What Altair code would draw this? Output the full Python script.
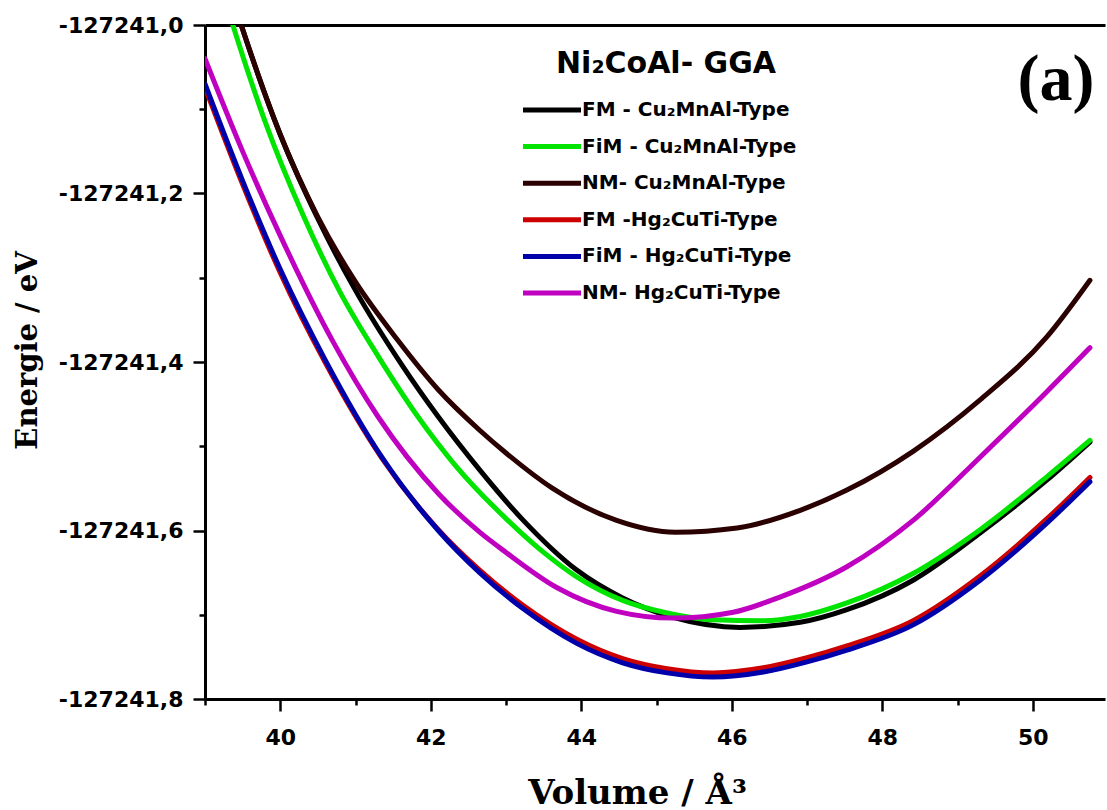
import altair as alt
import pandas as pd

# ---------------- data ----------------
series_names = [
    "FM - Cu₂MnAl-Type",
    "FiM - Cu₂MnAl-Type",
    "NM- Cu₂MnAl-Type",
    "FM -Hg₂CuTi-Type",
    "FiM - Hg₂CuTi-Type",
    "NM- Hg₂CuTi-Type",
]
series_colors = ["#000000", "#00e400", "#2a0000", "#cc0000", "#0000aa", "#c000c0"]

vol_fm_cu = [39.0, 39.5, 40.0, 40.5, 41.0, 41.62, 42.1, 42.65, 43.23, 43.94, 44.55, 45.22, 46.11, 46.91, 47.53, 48.41, 49.30, 50.19, 50.76]
ene_fm_cu = [-127240.860, -127241.005, -127241.130, -127241.230, -127241.315, -127241.404, -127241.465, -127241.528, -127241.588, -127241.647, -127241.680, -127241.703, -127241.715, -127241.709, -127241.694, -127241.659, -127241.603, -127241.540, -127241.495]

vol_fim_cu = [39.0, 39.37, 39.8, 40.3, 40.8, 41.3, 41.83, 42.32, 42.99, 43.5, 43.94, 44.55, 45.14, 45.75, 46.42, 46.91, 47.53, 48.41, 49.30, 50.19, 50.76]
ene_fim_cu = [-127240.890, -127241.000, -127241.115, -127241.225, -127241.318, -127241.393, -127241.465, -127241.522, -127241.585, -127241.626, -127241.655, -127241.683, -127241.698, -127241.706, -127241.707, -127241.702, -127241.686, -127241.651, -127241.599, -127241.536, -127241.493]

vol_nm_cu = [39.0, 39.5, 40.0, 40.5, 41.0, 41.56, 42.1, 42.65, 43.0, 43.62, 44.47, 45.25, 46.07, 46.91, 47.53, 48.41, 49.30, 50.19, 50.76]
ene_nm_cu = [-127240.860, -127241.005, -127241.130, -127241.228, -127241.305, -127241.374, -127241.433, -127241.481, -127241.508, -127241.550, -127241.588, -127241.602, -127241.597, -127241.576, -127241.552, -127241.506, -127241.445, -127241.370, -127241.303]

vol_fm_hg = [39.0, 39.5, 40.0, 40.6, 41.35, 42.1, 42.65, 43.23, 43.94, 44.55, 45.14, 45.75, 46.42, 47.0, 47.53, 48.41, 49.30, 50.19, 50.76]
ene_fm_hg = [-127241.074, -127241.189, -127241.294, -127241.401, -127241.514, -127241.599, -127241.647, -127241.689, -127241.729, -127241.752, -127241.764, -127241.769, -127241.763, -127241.751, -127241.737, -127241.707, -127241.654, -127241.586, -127241.537]

vol_fim_hg = [39.0, 39.5, 40.0, 40.6, 41.35, 42.1, 42.65, 43.23, 43.94, 44.55, 45.14, 45.75, 46.42, 47.0, 47.53, 48.41, 49.30, 50.19, 50.76]
ene_fim_hg = [-127241.070, -127241.185, -127241.290, -127241.398, -127241.513, -127241.600, -127241.650, -127241.693, -127241.734, -127241.757, -127241.769, -127241.774, -127241.768, -127241.756, -127241.742, -127241.712, -127241.659, -127241.591, -127241.542]

vol_nm_hg = [39.0, 39.5, 40.0, 40.69, 41.3, 42.1, 42.65, 43.0, 43.68, 44.47, 45.22, 46.02, 46.64, 47.53, 48.41, 49.30, 50.19, 50.76]
ene_nm_hg = [-127241.040, -127241.150, -127241.250, -127241.374, -127241.465, -127241.556, -127241.602, -127241.626, -127241.668, -127241.696, -127241.704, -127241.697, -127241.679, -127241.643, -127241.588, -127241.513, -127241.435, -127241.383]

x_ticks = [39, 40, 41, 42, 43, 44, 45, 46, 47, 48, 49, 50]
y_ticks = [-127241.8, -127241.7, -127241.6, -127241.5, -127241.4, -127241.3, -127241.2, -127241.1, -127241.0]
x_domain = [39.0, 50.96]
y_domain = [-127241.8, -127241.0]

legend_title = "Ni₂CoAl- GGA"
panel_label = "(a)"
x_title = "Volume / Å³"
y_title = "Energie / eV"

# ---------------- table ----------------
rows = []
for name, vols, enes in zip(
    series_names,
    [vol_fm_cu, vol_fim_cu, vol_nm_cu, vol_fm_hg, vol_fim_hg, vol_nm_hg],
    [ene_fm_cu, ene_fim_cu, ene_nm_cu, ene_fm_hg, ene_fim_hg, ene_nm_hg],
):
    for i, (v, e) in enumerate(zip(vols, enes)):
        rows.append({"series": name, "V": v, "E": e, "i": i})
df = pd.DataFrame(rows)

major_y = "round(abs(datum.value) * 10) % 2 == 0"
major_x = "datum.value % 2 == 0"

x_scale = alt.Scale(domain=x_domain, nice=False, zero=False)
y_scale = alt.Scale(domain=y_domain, nice=False, zero=False)

x_axis = alt.Axis(
    values=x_ticks,
    format="d",
    labelExpr=f"{major_x} ? datum.label : ''",
    tickSize={"condition": {"test": major_x, "value": 12}, "value": 6},
    title=x_title,
    titleFont="DejaVu Serif",
    titleFontWeight="bold",
    titleFontSize=34,
    titleX=432,
    titleY=104,
    titleBaseline="alphabetic",
    labelPadding=16,
    grid=False,
)
y_axis = alt.Axis(
    values=y_ticks,
    labelExpr=f"{major_y} ? '-' + replace(format(abs(datum.value), '.1f'), '.', ',') : ''",
    tickSize={"condition": {"test": major_y, "value": 12}, "value": 6},
    title=y_title,
    titleFont="DejaVu Serif",
    titleFontWeight="bold",
    titleFontSize=29,
    titleX=-163,
    titleY=325,
    labelPadding=10,
    grid=False,
)

lines = alt.Chart(df).mark_line(
    strokeWidth=5, clip=True, strokeJoin="round", strokeCap="round", interpolate="monotone"
).encode(
    x=alt.X("V:Q", scale=x_scale, axis=x_axis),
    y=alt.Y("E:Q", scale=y_scale, axis=y_axis),
    color=alt.Color(
        "series:N",
        scale=alt.Scale(domain=series_names, range=series_colors),
        legend=alt.Legend(
            title=legend_title,
            orient="none",
            legendX=330,
            legendY=24,
            padding=0,
            titleFont="DejaVu Sans",
            titleFontWeight="bold",
            titleFontSize=30,
            titleColor="black",
            titleAnchor="middle",
            titlePadding=14,
            titleLimit=600,
            labelFont="DejaVu Sans",
            labelFontWeight="bold",
            labelFontSize=20,
            labelColor="black",
            labelOffset=13,
            symbolType="M-2,0H2",
            symbolSize=841,
            symbolStrokeWidth=5,
            rowPadding=9.6,
            labelLimit=400,
        ),
    ),
    order="i:Q",
)

top_frame = alt.Chart(df).mark_line(opacity=0).encode(
    x=alt.X("V:Q", scale=x_scale, axis=alt.Axis(orient="top", labels=False, ticks=False, title=None, grid=False)),
    y=alt.Y("E:Q", scale=y_scale, axis=None),
    detail="series:N",
)

label_df = pd.DataFrame({"t": [panel_label]})
label = alt.Chart(label_df).mark_text(
    font="Liberation Serif", fontWeight="bold", fontSize=66, color="black", baseline="middle", align="center"
).encode(x=alt.value(851), y=alt.value(55), text="t:N")

chart = (
    alt.layer(lines, top_frame, label)
    .resolve_axis(x="independent", y="independent")
    .properties(
        width=900,
        height=674,
        autosize=alt.AutoSizeParams(type="none"),
        padding={"left": 205, "top": 25, "right": 2, "bottom": 111},
        background="white",
    )
    .configure_view(stroke=None)
    .configure_axis(
        domainColor="black",
        domainWidth=3,
        tickColor="black",
        tickWidth=2.5,
        labelFont="DejaVu Sans",
        labelFontWeight="bold",
        labelFontSize=22,
        labelColor="black",
        titleColor="black",
    )
)

chart.save("out.html", embed_options={"renderer": "svg", "actions": False})
